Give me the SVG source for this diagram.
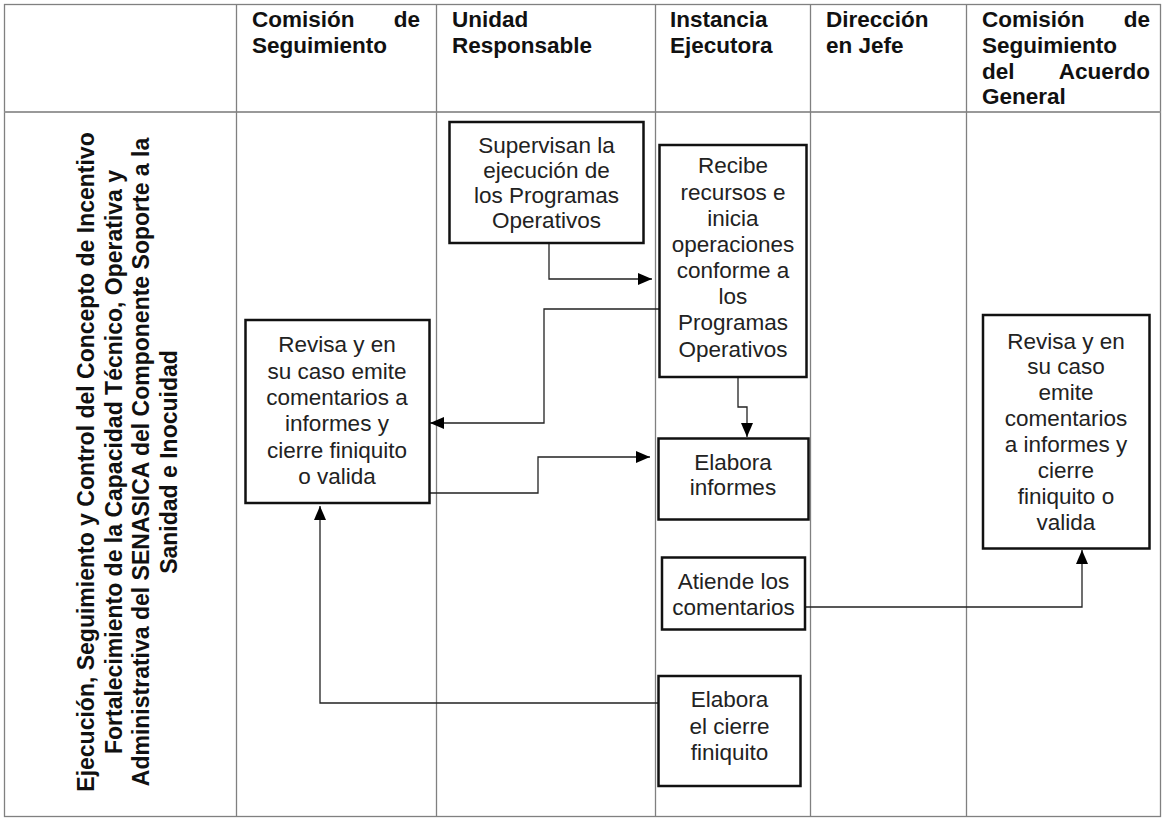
<svg xmlns="http://www.w3.org/2000/svg" width="1162" height="819" viewBox="0 0 1162 819">
<style>
.grid{stroke:#808080;stroke-width:1.3;fill:none}
.hdr{font-family:"Liberation Sans",Arial,sans-serif;font-weight:bold;font-size:22.5px;fill:#111}
.vt{font-family:"Liberation Sans",Arial,sans-serif;font-weight:bold;font-size:23px;fill:#111;text-anchor:middle}
.box{fill:#fff;stroke:#111;stroke-width:2.5}
.bt{font-family:"Liberation Sans",Arial,sans-serif;font-size:22.5px;fill:#222;text-anchor:middle}
.conn{fill:none;stroke:#222;stroke-width:1.3}
</style>
<defs>
<marker id="ah" markerUnits="userSpaceOnUse" markerWidth="16" markerHeight="14" refX="14" refY="6" orient="auto">
<path d="M0,0 L14,6 L0,12 z" fill="#000"/>
</marker>
</defs>
<rect width="1162" height="819" fill="#fff"/>
<g id="grid">
<rect class="grid" x="4.5" y="4.5" width="1156" height="812"/>
<line class="grid" x1="4.5" y1="112" x2="1160.5" y2="112" style="stroke:#999;stroke-width:2"/>
<line class="grid" x1="236.5" y1="4.5" x2="236.5" y2="816.5"/>
<line class="grid" x1="436.5" y1="4.5" x2="436.5" y2="816.5"/>
<line class="grid" x1="655.5" y1="4.5" x2="655.5" y2="816.5"/>
<line class="grid" x1="810.5" y1="4.5" x2="810.5" y2="816.5"/>
<line class="grid" x1="966.5" y1="4.5" x2="966.5" y2="816.5"/>
</g>
<g id="headers">
<text class="hdr" x="252" y="27">Comisión</text>
<text class="hdr" x="420" y="27" text-anchor="end">de</text>
<text class="hdr" x="252" y="53">Seguimiento</text>
<text class="hdr" x="452" y="27">Unidad</text>
<text class="hdr" x="452" y="53">Responsable</text>
<text class="hdr" x="670" y="27">Instancia</text>
<text class="hdr" x="670" y="53">Ejecutora</text>
<text class="hdr" x="826" y="27">Dirección</text>
<text class="hdr" x="826" y="53">en Jefe</text>
<text class="hdr" x="982" y="27">Comisión</text>
<text class="hdr" x="1150" y="27" text-anchor="end">de</text>
<text class="hdr" x="982" y="53">Seguimiento</text>
<text class="hdr" x="982" y="79">del</text>
<text class="hdr" x="1150" y="79" text-anchor="end">Acuerdo</text>
<text class="hdr" x="982" y="104">General</text>
</g>
<g id="row-label">
<text class="vt" transform="translate(94,462) rotate(-90)">Ejecución, Seguimiento y Control del Concepto de Incentivo</text>
<text class="vt" transform="translate(121.5,462) rotate(-90)">Fortalecimiento de la Capacidad Técnico, Operativa y</text>
<text class="vt" transform="translate(149,462) rotate(-90)">Administrativa del SENASICA del Componente Soporte a la</text>
<text class="vt" transform="translate(176.5,462) rotate(-90)">Sanidad e Inocuidad</text>
</g>
<g id="connectors">
<path class="conn" d="M549,243 V279 H652" marker-end="url(#ah)"/>
<path class="conn" d="M659,309 H544 V423 H430" marker-end="url(#ah)"/>
<path class="conn" d="M429,493 H538 V457 H650" marker-end="url(#ah)"/>
<path class="conn" d="M738,377 V407 H747 V437" marker-end="url(#ah)"/>
<path class="conn" d="M805,607 H1082 V550" marker-end="url(#ah)"/>
<path class="conn" d="M658,703 H320 V506" marker-end="url(#ah)"/>
</g>
<g id="supervisan">
<rect class="box" x="449.5" y="122" width="194" height="121"/>
<text class="bt" x="546.5" y="153">Supervisan la</text>
<text class="bt" x="546.5" y="178">ejecución de</text>
<text class="bt" x="546.5" y="203">los Programas</text>
<text class="bt" x="546.5" y="228">Operativos</text>
</g>
<g id="recibe">
<rect class="box" x="659.5" y="145" width="147" height="232"/>
<text class="bt" x="733" y="173">Recibe</text>
<text class="bt" x="733" y="199.5">recursos e</text>
<text class="bt" x="733" y="225.5">inicia</text>
<text class="bt" x="733" y="252">operaciones</text>
<text class="bt" x="733" y="278">conforme a</text>
<text class="bt" x="733" y="304">los</text>
<text class="bt" x="733" y="330">Programas</text>
<text class="bt" x="733" y="357">Operativos</text>
</g>
<g id="revisa-cs">
<rect class="box" x="245.5" y="320" width="184" height="183"/>
<text class="bt" x="337" y="352">Revisa y en</text>
<text class="bt" x="337" y="378.5">su caso emite</text>
<text class="bt" x="337" y="405">comentarios a</text>
<text class="bt" x="337" y="431">informes y</text>
<text class="bt" x="337" y="457.5">cierre finiquito</text>
<text class="bt" x="337" y="484">o valida</text>
</g>
<g id="elabora-informes">
<rect class="box" x="658.5" y="438.5" width="150" height="81"/>
<text class="bt" x="733" y="469.5">Elabora</text>
<text class="bt" x="733" y="494.5">informes</text>
</g>
<g id="atiende">
<rect class="box" x="662" y="557.5" width="143" height="72"/>
<text class="bt" x="733.5" y="588.5">Atiende los</text>
<text class="bt" x="733.5" y="615">comentarios</text>
</g>
<g id="elabora-cierre">
<rect class="box" x="658.5" y="676" width="142" height="110"/>
<text class="bt" x="729.5" y="707">Elabora</text>
<text class="bt" x="729.5" y="733.5">el cierre</text>
<text class="bt" x="729.5" y="759.5">finiquito</text>
</g>
<g id="revisa-csag">
<rect class="box" x="983" y="315" width="166.5" height="233.5"/>
<text class="bt" x="1066" y="348.5">Revisa y en</text>
<text class="bt" x="1066" y="374">su caso</text>
<text class="bt" x="1066" y="400">emite</text>
<text class="bt" x="1066" y="426">comentarios</text>
<text class="bt" x="1066" y="452">a informes y</text>
<text class="bt" x="1066" y="477.5">cierre</text>
<text class="bt" x="1066" y="503.5">finiquito o</text>
<text class="bt" x="1066" y="530">valida</text>
</g>
</svg>
